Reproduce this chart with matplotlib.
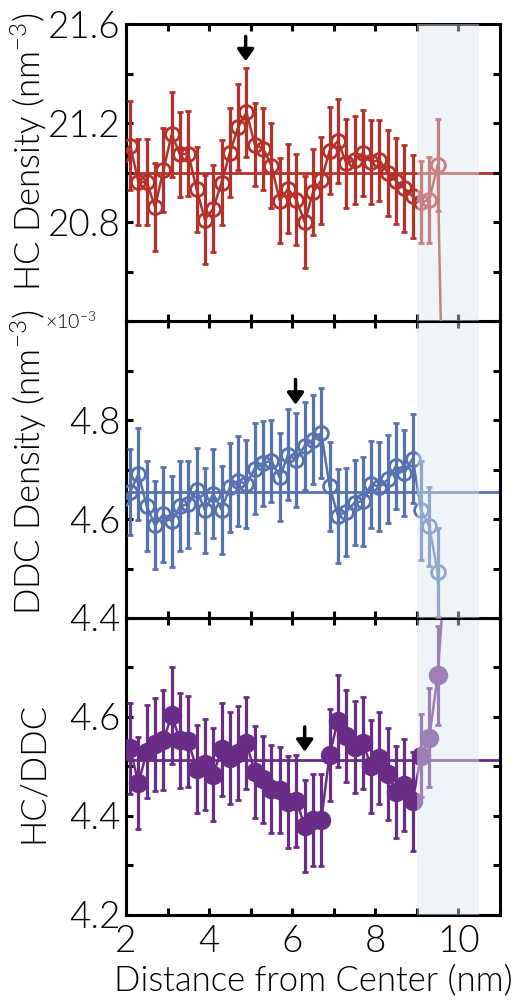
import matplotlib
matplotlib.use("Agg")
import matplotlib.pyplot as plt
from matplotlib.ticker import MultipleLocator, FixedLocator

plt.rcParams['font.family'] = ['Lato', 'DejaVu Sans']
plt.rcParams['font.weight'] = 300
plt.rcParams['axes.labelweight'] = 300
plt.rcParams['mathtext.default'] = 'regular'

# distance from center (nm)
dist = [1.9, 2.1, 2.3, 2.5, 2.7, 2.9, 3.1, 3.3, 3.5, 3.7, 3.9, 4.1, 4.3, 4.5,
        4.7, 4.9, 5.1, 5.3, 5.5, 5.7, 5.9, 6.1, 6.3, 6.5, 6.7, 6.9, 7.1, 7.3,
        7.5, 7.7, 7.9, 8.1, 8.3, 8.5, 8.7, 8.9, 9.1, 9.3, 9.5, 9.7]

hc = [21.07, 21.109, 20.962, 20.962, 20.861, 21.01, 21.154, 21.073, 21.076,
      20.932, 20.81, 20.854, 20.959, 21.08, 21.183, 21.243, 21.113, 21.096,
      21.028, 20.887, 20.934, 20.89, 20.80, 20.92, 20.969, 21.088, 21.128,
      21.038, 21.05, 21.078, 21.043, 21.049, 20.999, 20.966, 20.936, 20.904,
      20.881, 20.889, 21.03, 19.35]
hc_err = [0.18, 0.18, 0.172, 0.172, 0.178, 0.17, 0.172, 0.172, 0.172, 0.172,
          0.179, 0.175, 0.172, 0.179, 0.173, 0.18, 0.169, 0.165, 0.173, 0.172,
          0.18, 0.184, 0.185, 0.174, 0.175, 0.175, 0.17, 0.18, 0.178, 0.174,
          0.171, 0.163, 0.173, 0.172, 0.175, 0.167, 0.166, 0.174, 0.185, 0.18]
hc_mean = 21.0

ddc = [4.64, 4.655, 4.691, 4.626, 4.587, 4.610, 4.595, 4.626, 4.630, 4.658,
       4.618, 4.651, 4.619, 4.664, 4.677, 4.670, 4.702, 4.713, 4.718, 4.684,
       4.730, 4.720, 4.748, 4.760, 4.774, 4.666, 4.607, 4.615, 4.633, 4.636,
       4.670, 4.665, 4.680, 4.707, 4.693, 4.722, 4.618, 4.585, 4.492, 3.95]
ddc_err = [0.09, 0.087, 0.092, 0.091, 0.089, 0.096, 0.091, 0.091, 0.088, 0.086,
           0.086, 0.09, 0.089, 0.09, 0.091, 0.089, 0.091, 0.086, 0.083, 0.089,
           0.092, 0.095, 0.089, 0.09, 0.091, 0.09, 0.095, 0.089, 0.086, 0.09,
           0.088, 0.09, 0.089, 0.087, 0.087, 0.09, 0.1, 0.08, 0.09, 0.09]
ddc_mean = 4.654

ratio = [4.53, 4.537, 4.466, 4.530, 4.545, 4.553, 4.603, 4.553, 4.551, 4.495,
         4.504, 4.483, 4.535, 4.518, 4.527, 4.547, 4.488, 4.474, 4.455, 4.452,
         4.429, 4.431, 4.380, 4.392, 4.392, 4.524, 4.592, 4.561, 4.540, 4.548,
         4.500, 4.518, 4.485, 4.448, 4.463, 4.430, 4.522, 4.558, 4.684, 4.92]
ratio_err = [0.092, 0.092, 0.093, 0.094, 0.094, 0.101, 0.098, 0.096, 0.092,
             0.089, 0.092, 0.094, 0.094, 0.093, 0.095, 0.093, 0.093, 0.088,
             0.089, 0.087, 0.093, 0.093, 0.093, 0.093, 0.093, 0.093, 0.093,
             0.093, 0.093, 0.093, 0.093, 0.093, 0.093, 0.093, 0.093, 0.1,
             0.084, 0.1, 0.1, 0.1]
ratio_mean = 4.513

# arrows: (x, tail y, head y)
arrows = [(4.88, 21.55, 21.45), (6.08, 4.882, 4.831), (6.30, 4.58, 4.53)]

red = '#b5312a'
blue = '#5673b0'
purple = '#6a2d87'

fig = plt.figure(figsize=(5.18, 10.07), dpi=100)
left, width, h = 0.2432, 0.722, 0.2949
ax3 = fig.add_axes([left, 0.0914, width, h])
ax2 = fig.add_axes([left, 0.0914 + h, width, h], sharex=ax3)
ax1 = fig.add_axes([left, 0.0914 + 2 * h, width, h], sharex=ax3)

panels = [
    (ax1, hc, hc_err, hc_mean, red, 'none', 10, (20.4, 21.6), [20.8, 21.2, 21.6], 0.2,
     'HC Density (nm$^{-3}$)', 0.57),
    (ax2, ddc, ddc_err, ddc_mean, blue, 'none', 10, (4.4, 5.0), [4.4, 4.6, 4.8], 0.1,
     'DDC Density (nm$^{-3}$)', 0.525),
    (ax3, ratio, ratio_err, ratio_mean, purple, purple, 12, (4.2, 4.8), [4.2, 4.4, 4.6], 0.1,
     'HC/DDC', 0.48),
]

for ax, y, err, mean, col, mfc, ms, ylim, majors, step, lab, ly in panels:
    ax.axhline(mean, color=col, lw=2, zorder=1)
    ax.errorbar(dist, y, yerr=err, fmt='-o', color=col, mfc=mfc, mec=col, ms=ms,
                mew=2, lw=1.8, elinewidth=2.3, capsize=2.2, capthick=2.3, zorder=3)
    ax.axvspan(9.0, 10.5, color='#dbe7f1', alpha=0.45, lw=0, zorder=10)
    ax.set_xlim(2, 11)
    ax.set_ylim(*ylim)
    ax.yaxis.set_major_locator(FixedLocator(majors))
    ax.yaxis.set_minor_locator(MultipleLocator(step))
    ax.xaxis.set_major_locator(FixedLocator([2, 4, 6, 8, 10]))
    ax.xaxis.set_minor_locator(MultipleLocator(1))
    ax.tick_params(which='both', direction='in', length=5, width=2.2,
                   top=True, right=True, labelsize=26.5)
    ax.tick_params(axis='y', pad=4)
    ax.tick_params(axis='x', pad=7)
    for s in ax.spines.values():
        s.set_linewidth(2.2)
    ax.set_ylabel(lab, fontsize=25)
    ax.yaxis.set_label_coords(-0.205, ly)

for (xa, y0, y1), ax in zip(arrows, [ax1, ax2, ax3]):
    ax.annotate('', xy=(xa, y1), xytext=(xa, y0),
                arrowprops=dict(arrowstyle='-|>,head_length=0.35,head_width=0.25',
                                color='k', lw=2.5, mutation_scale=20,
                                shrinkA=0, shrinkB=0), zorder=5)

ax1.tick_params(labelbottom=False)
ax2.tick_params(labelbottom=False)
ax2.text(-0.08, 1.0, r'$\times$10$^{-3}$', transform=ax2.transAxes,
         ha='right', va='center', fontsize=14)
ax3.set_xlabel('Distance from Center (nm)', fontsize=25, labelpad=4)

fig.savefig('out.png', dpi=100)
